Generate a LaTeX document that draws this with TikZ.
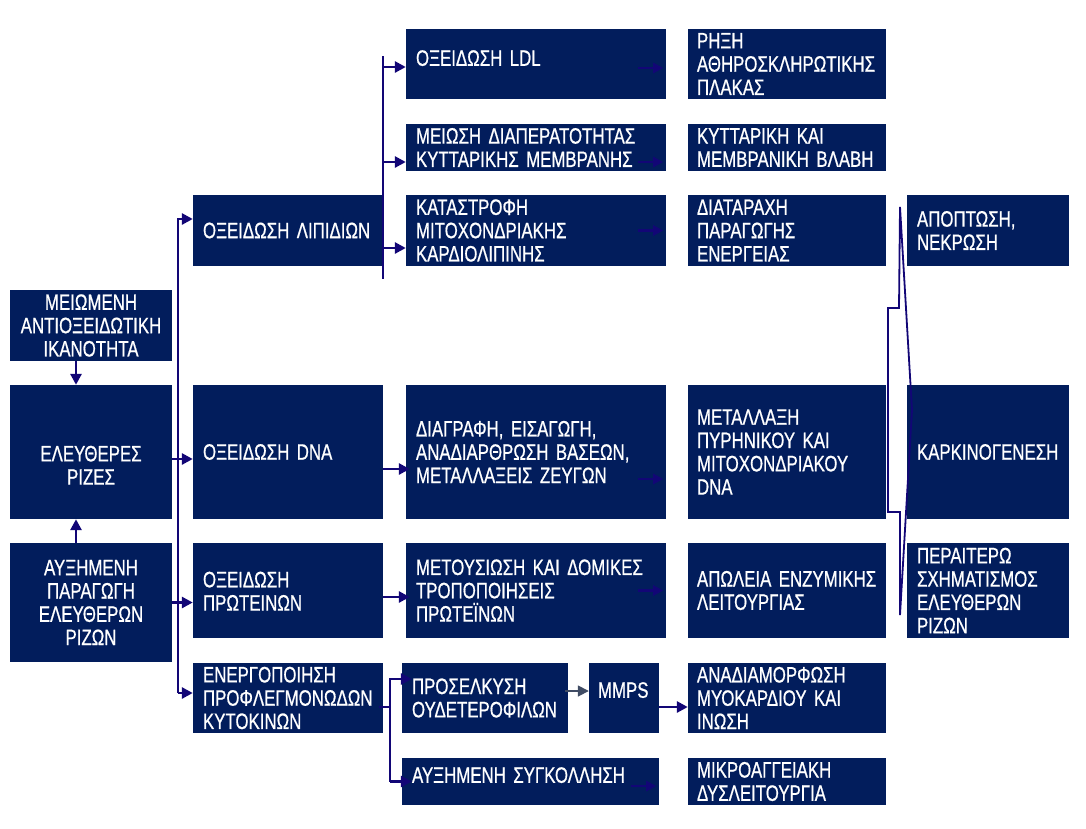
\documentclass[tikz,border=0pt]{standalone}
\usepackage{fontspec}
\setmainfont{Liberation Sans}[FakeStretch=0.755, FakeBold=0.7]
\usepackage{tikz}
\usetikzlibrary{positioning,arrows.meta}

\definecolor{boxblue}{RGB}{2,29,92}
\definecolor{linkblue}{RGB}{18,6,118}
\definecolor{greyarrow}{RGB}{64,76,100}

\begin{document}
\begin{tikzpicture}[x=1pt, y=-1pt,
    box/.style = {shape=rectangle, fill=boxblue, text=white,
      font=\fontsize{22.3}{23.3}\selectfont, inner ysep=0pt},
    c1/.style = {box, text width=162pt, inner xsep=0pt, align=center},
    c2/.style = {box, text width=170pt, inner xsep=10pt, align=left},
    c3/.style = {box, text width=240pt, inner xsep=10pt, align=left},
    c4/.style = {box, text width=180pt, inner xsep=9pt, align=left},
    c5/.style = {box, text width=142pt, inner xsep=10pt, align=left},
    lift/.style = {text depth=#1},
    drop/.style = {text height=#1},
    wire/.style = {draw=linkblue, line width=2.8pt},
    arr/.style = {wire, -{Triangle[length=11pt,width=11pt]}},
    hid/.style = {draw=linkblue, line width=2.4pt, -{Triangle[length=10pt,width=10pt]}},
    garr/.style = {draw=greyarrow, line width=1.6pt, -{Triangle[length=11pt,width=11pt]}},
    brace/.style = {draw=linkblue, line width=1.8pt, line join=miter}]
    \useasboundingbox (0,0) rectangle (1086,828);

    % column 1
    \node[c1, minimum height=71pt] (mei) at (91,325.5) {ΜΕΙΩΜΕΝΗ\\ΑΝΤΙΟΞΕΙΔΩΤΙΚΗ\\ΙΚΑΝΟΤΗΤΑ};
    \node[c1, minimum height=134pt, drop=42pt] (rad) at (91,452) {ΕΛΕΥΘΕΡΕΣ\\ΡΙΖΕΣ};
    \node[c1, minimum height=119pt] (aux) at (91,602.5) {ΑΥΞΗΜΕΝΗ\\ΠΑΡΑΓΩΓΗ\\ΕΛΕΥΘΕΡΩΝ\\ΡΙΖΩΝ};

    % column 2
    \node[c2, minimum height=71pt] (lip) at (288,230.5) {ΟΞΕΙΔΩΣΗ ΛΙΠΙΔΙΩΝ};
    \node[c2, minimum height=134pt] (dna) at (288,452) {ΟΞΕΙΔΩΣΗ DNA};
    \node[c2, minimum height=95pt, lift=22pt] (prot) at (288,590.5) {ΟΞΕΙΔΩΣΗ\\ΠΡΩΤΕΙΝΩΝ};
    \node[c2, minimum height=70pt] (cyto) at (288,698) {ΕΝΕΡΓΟΠΟΙΗΣΗ\\ΠΡΟΦΛΕΓΜΟΝΩΔΩΝ\\ΚΥΤΟΚΙΝΩΝ};

    % column 3
    \node[c3, minimum height=70pt, lift=12pt] (ldl) at (536,64) {ΟΞΕΙΔΩΣΗ LDL};
    \node[c3, minimum height=47pt] (memb) at (536,147.5) {ΜΕΙΩΣΗ ΔΙΑΠΕΡΑΤΟΤΗΤΑΣ\\ΚΥΤΤΑΡΙΚΗΣ ΜΕΜΒΡΑΝΗΣ};
    \node[c3, minimum height=71pt] (card) at (536,230.5) {ΚΑΤΑΣΤΡΟΦΗ\\ΜΙΤΟΧΟΝΔΡΙΑΚΗΣ\\ΚΑΡΔΙΟΛΙΠΙΝΗΣ};
    \node[c3, minimum height=134pt] (mut) at (536,452) {ΔΙΑΓΡΑΦΗ, ΕΙΣΑΓΩΓΗ,\\ΑΝΑΔΙΑΡΘΡΩΣΗ ΒΑΣΕΩΝ,\\ΜΕΤΑΛΛΑΞΕΙΣ ΖΕΥΓΩΝ};
    \node[c3, minimum height=95pt] (metu) at (536,590.5) {ΜΕΤΟΥΣΙΩΣΗ ΚΑΙ ΔΟΜΙΚΕΣ\\ΤΡΟΠΟΠΟΙΗΣΕΙΣ\\ΠΡΩΤΕΪΝΩΝ};
    \node[c3, text width=146pt, minimum height=70pt] (neut) at (485,698) {ΠΡΟΣΕΛΚΥΣΗ\\ΟΥΔΕΤΕΡΟΦΙΛΩΝ};
    \node[c3, text width=52pt, inner xsep=9pt, minimum height=70pt, lift=16pt] (mmp) at (624,698) {MMPS};
    \node[c3, text width=237pt, minimum height=47pt, lift=13pt] (adh) at (530.5,781.5) {ΑΥΞΗΜΕΝΗ ΣΥΓΚΟΛΛΗΣΗ};

    % column 4
    \node[c4, minimum height=70pt] (rup) at (787,64) {ΡΗΞΗ\\ΑΘΗΡΟΣΚΛΗΡΩΤΙΚΗΣ\\ΠΛΑΚΑΣ};
    \node[c4, minimum height=47pt] (cell) at (787,147.5) {ΚΥΤΤΑΡΙΚΗ ΚΑΙ\\ΜΕΜΒΡΑΝΙΚΗ ΒΛΑΒΗ};
    \node[c4, minimum height=71pt] (ener) at (787,230.5) {ΔΙΑΤΑΡΑΧΗ\\ΠΑΡΑΓΩΓΗΣ\\ΕΝΕΡΓΕΙΑΣ};
    \node[c4, minimum height=134pt] (dnam) at (787,452) {ΜΕΤΑΛΛΑΞΗ\\ΠΥΡΗΝΙΚΟΥ ΚΑΙ\\ΜΙΤΟΧΟΝΔΡΙΑΚΟΥ\\DNA};
    \node[c4, minimum height=95pt] (enz) at (787,590.5) {ΑΠΩΛΕΙΑ ΕΝΖΥΜΙΚΗΣ\\ΛΕΙΤΟΥΡΓΙΑΣ};
    \node[c4, minimum height=70pt] (remod) at (787,698) {ΑΝΑΔΙΑΜΟΡΦΩΣΗ\\ΜΥΟΚΑΡΔΙΟΥ ΚΑΙ\\ΙΝΩΣΗ};
    \node[c4, minimum height=47pt] (micro) at (787,781.5) {ΜΙΚΡΟΑΓΓΕΙΑΚΗ\\ΔΥΣΛΕΙΤΟΥΡΓΙΑ};

    % column 5
    \node[c5, minimum height=71pt] (apo) at (988,230.5) {ΑΠΟΠΤΩΣΗ,\\ΝΕΚΡΩΣΗ};
    \node[c5, minimum height=134pt] (carc) at (988,452) {ΚΑΡΚΙΝΟΓΕΝΕΣΗ};
    \node[c5, minimum height=95pt] (more) at (988,590.5) {ΠΕΡΑΙΤΕΡΩ\\ΣΧΗΜΑΤΙΣΜΟΣ\\ΕΛΕΥΘΕΡΩΝ\\ΡΙΖΩΝ};

    % free radicals in and out
    \draw[arr] ([xshift=-15pt]mei.south) -- ([xshift=-15pt]rad.north);
    \draw[arr] ([xshift=-15pt]aux.north) -- ([xshift=-15pt]rad.south);
    \coordinate (busL) at (178,0);
    \path ([yshift=-7pt]rad.east) coordinate (radOut)
          ([yshift=11.5pt]lip.west) coordinate (lipIn)
          ([yshift=5pt]cyto.west) coordinate (cytoIn);
    \draw[arr] (cytoIn -| busL) |- (lipIn);
    \draw[arr] (cytoIn -| busL) -- (cytoIn);
    \draw[arr] (radOut) -- (radOut -| dna.west);
    \draw[arr] (aux.east) -- (aux.east -| prot.west);

    % lipid branch
    \coordinate (busTop) at (383,56);
    \coordinate (busBot) at (383,279);
    \draw[wire] (busTop) -- (busBot);
    \foreach \n/\s in {ldl/-3, memb/-14.5, card/-17.5} {
        \path ([yshift=\s pt]\n.west) coordinate (t);
        \draw[arr] (t -| busTop) -- (t);
    }

    % dna and proteins
    \path ([yshift=-17pt]dna.east) coordinate (dnaOut)
          ([yshift=-6.5pt]prot.east) coordinate (protOut);
    \draw[arr] (dnaOut) -- ([xshift=4pt]dnaOut -| mut.west);
    \draw[arr] (protOut) -- ([xshift=4pt]protOut -| metu.west);

    % cytokine branch
    \coordinate (busR) at (390,0);
    \path ([yshift=-9pt]cyto.east) coordinate (cytoOut)
          ([yshift=19pt]neut.west) coordinate (neutIn);
    \draw[wire] ([xshift=-4pt]cytoOut) -- (cytoOut -| busR);
    \draw[arr] (adh.west -| busR) |- ([xshift=10pt]neutIn);
    \draw[arr] (adh.west -| busR) -- ([xshift=10pt]adh.west);
    \path ([yshift=7pt]neut.east) coordinate (nOut)
          ([yshift=-9pt]mmp.east) coordinate (mOut);
    \draw[garr] ([xshift=-3pt]nOut) -- (nOut -| mmp.west);
    \draw[arr] (mOut) -- (mOut -| remod.west);

    % arrows towards column 4
    \foreach \n/\s in {ldl/-4, memb/-14.5, card/0, mut/-27, metu/0, adh/-4.5} {
        \path ([xshift=-28pt,yshift=\s pt]\n.east) coordinate (a)
              ([xshift=-3pt,yshift=\s pt]\n.east) coordinate (b);
        \draw[hid] (a) -- (b);
    }

    % outcome brace
    \draw[brace] (900,207) -- (912,410) -- (900,615) -- (900,512) -- (888,512)
        -- (888,308) -- (899,308) -- cycle;
\end{tikzpicture}
\end{document}
